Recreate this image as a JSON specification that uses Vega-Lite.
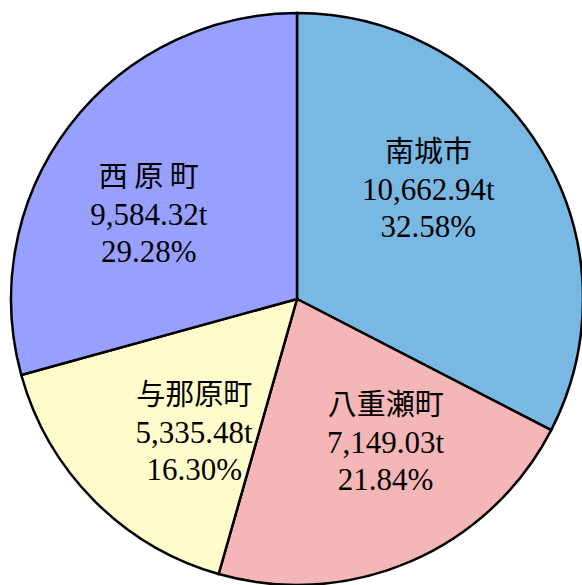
{
  "$schema": "https://vega.github.io/schema/vega-lite/v6.json",
  "width": 572,
  "height": 572,
  "autosize": {"type": "none"},
  "padding": {"left": 11, "top": 13, "right": 0, "bottom": 0},
  "background": "white",
  "view": {"stroke": null},
  "data": {
    "values": [
      {"name": "南城市", "tons": 10662.94, "nameLabel": "南城市", "valueLabel": "10,662.94t\n32.58%", "order": 1},
      {"name": "八重瀬町", "tons": 7149.03, "nameLabel": "八重瀬町", "valueLabel": "7,149.03t\n21.84%", "order": 2},
      {"name": "与那原町", "tons": 5335.48, "nameLabel": "与那原町", "valueLabel": "5,335.48t\n16.30%", "order": 3},
      {"name": "西原町", "tons": 9584.32, "nameLabel": "西 原 町", "valueLabel": "9,584.32t\n29.28%", "order": 4}
    ]
  },
  "layer": [
    {
      "mark": {"type": "arc", "radius": 286, "stroke": "black", "strokeWidth": 2.5},
      "encoding": {
        "theta": {"field": "tons", "type": "quantitative", "stack": true},
        "order": {"field": "order", "type": "quantitative"},
        "color": {
          "field": "name",
          "type": "nominal",
          "sort": null,
          "scale": {
            "domain": ["南城市", "八重瀬町", "与那原町", "西原町"],
            "range": ["#7AB8E4", "#F5B6B8", "#FFFCCC", "#97A0FF"]
          },
          "legend": null
        }
      }
    },
    {
      "mark": {
        "type": "text",
        "radius": 170,
        "dy": -38,
        "font": "Noto Sans CJK JP",
        "fontSize": 29,
        "color": "black",
        "align": "center",
        "baseline": "middle"
      },
      "encoding": {
        "theta": {"field": "tons", "type": "quantitative", "stack": true, "scale": {"range": [-0.14, 6.1432]}},
        "order": {"field": "order", "type": "quantitative"},
        "text": {"field": "nameLabel", "type": "nominal"}
      }
    },
    {
      "mark": {
        "type": "text",
        "radius": 170,
        "lineBreak": "\n",
        "lineHeight": 37,
        "font": "Liberation Serif",
        "fontSize": 31,
        "color": "black",
        "align": "center",
        "baseline": "middle"
      },
      "encoding": {
        "theta": {"field": "tons", "type": "quantitative", "stack": true, "scale": {"range": [-0.14, 6.1432]}},
        "order": {"field": "order", "type": "quantitative"},
        "text": {"field": "valueLabel", "type": "nominal"}
      }
    }
  ],
  "resolve": {"scale": {"theta": "independent"}}
}
